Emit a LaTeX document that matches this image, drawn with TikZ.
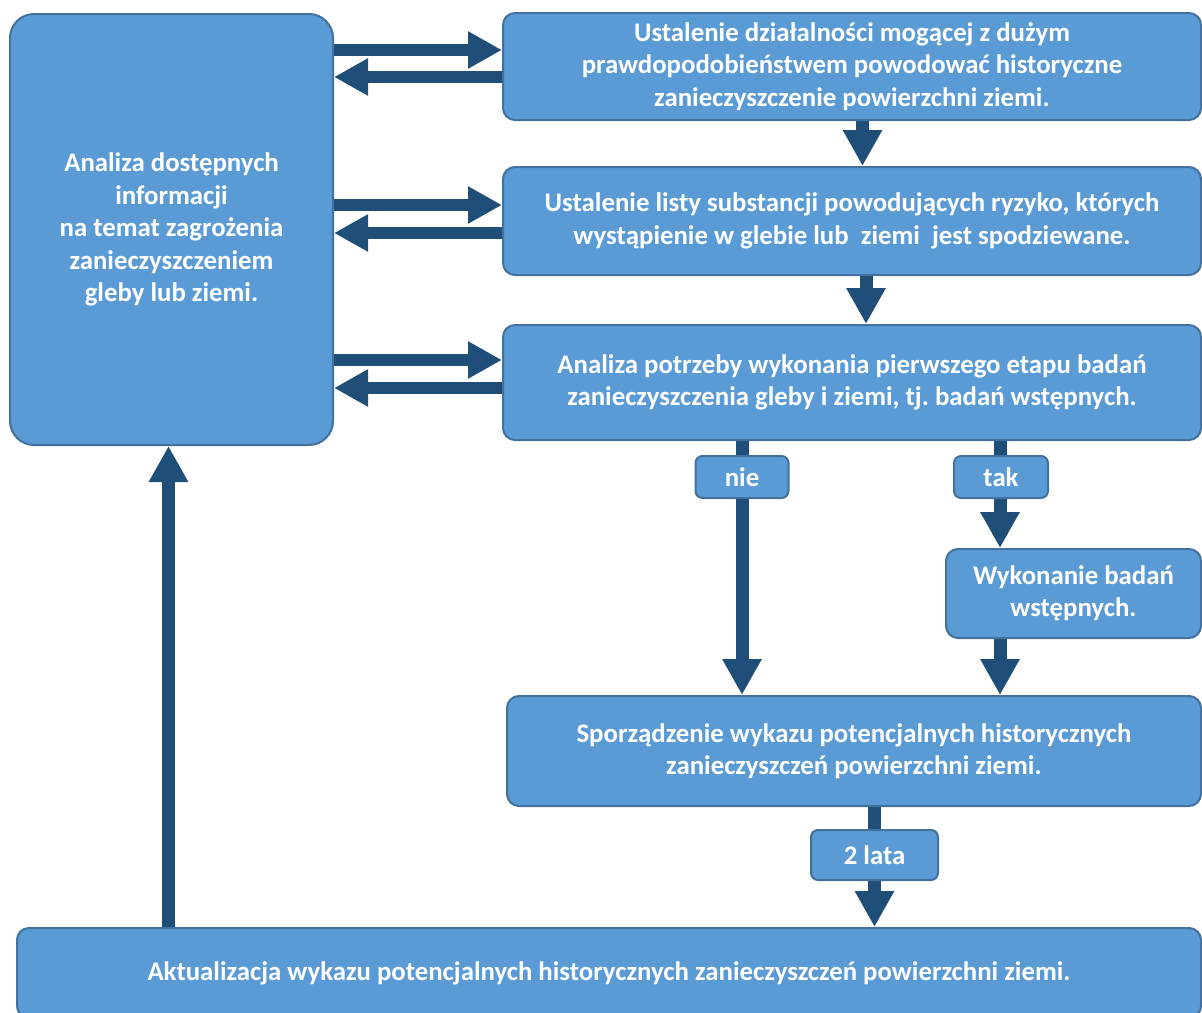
\documentclass[tikz,border=0pt]{standalone}
\usepackage{fontspec}
\setmainfont{Carlito}
\usetikzlibrary{arrows.meta,backgrounds}
\definecolor{boxfill}{HTML}{5B9BD5}
\definecolor{boxline}{HTML}{41719C}
\definecolor{arrowc}{HTML}{1F4E79}
\frenchspacing
\begin{document}
\begin{tikzpicture}[x=1pt,y=-1pt,
 box/.style={draw=boxline, line width=2pt, fill=boxfill, rounded corners=12pt, text=white,
   font=\fontsize{26.8}{32.5}\selectfont\bfseries, align=center, inner sep=0pt},
 bigbox/.style={box, rounded corners=24pt},
 tagbox/.style={box, rounded corners=7pt},
 harrow/.style={draw=arrowc, line width=12pt, -{Triangle[width=35pt,length=34pt]}},
 varrow/.style={draw=arrowc, line width=13pt, -{Triangle[width=37pt,length=36pt]}},
 ]
\useasboundingbox (0,0) rectangle (1202,1012);

\node[bigbox, minimum width=323pt, minimum height=431pt] (L) at (171.5,229.5)
  {Analiza dostępnych\\informacji\\na temat zagrożenia\\zanieczyszczeniem\\gleby lub ziemi.};
\node[box, minimum width=698pt, minimum height=107pt] (A) at (852,66.5)
  {Ustalenie działalności mogącej z dużym\\prawdopodobieństwem powodować historyczne\\zanieczyszczenie powierzchni ziemi.};
\node[box, minimum width=698pt, minimum height=108pt] (B) at (852,221)
  {Ustalenie listy substancji powodujących ryzyko, których\\wystąpienie w glebie lub\ \ ziemi\ \ jest spodziewane.};
\node[box, minimum width=698pt, minimum height=115pt] (C) at (852,382.5)
  {Analiza potrzeby wykonania pierwszego etapu badań\\zanieczyszczenia gleby i ziemi, tj. badań wstępnych.};
\node[box, minimum width=255pt, minimum height=89pt] (W) at (1073.5,593.5)
  {Wykonanie badań\\wstępnych.};
\node[box, minimum width=694pt, minimum height=110pt] (S) at (854,751)
  {Sporządzenie wykazu potencjalnych historycznych\\zanieczyszczeń powierzchni ziemi.};
\node[box, minimum width=1184pt, minimum height=90pt] (Bot) at (609,973)
  {Aktualizacja wykazu potencjalnych historycznych zanieczyszczeń powierzchni ziemi.};

\node[tagbox, minimum width=93pt, minimum height=42pt] (nie) at (742,477) {nie};
\node[tagbox, minimum width=94pt, minimum height=42pt] (tak) at (1001,477) {tak};
\node[tagbox, minimum width=127pt, minimum height=50pt] (lata) at (874.5,855) {2 lata};

\begin{scope}[on background layer]
  % left box <-> right boxes
  \draw[harrow] (L.east |- 0,50) -- (A.west |- 0,50);
  \draw[harrow] (A.west |- 0,77) -- (L.east |- 0,77);
  \draw[harrow] (L.east |- 0,205) -- (B.west |- 0,205);
  \draw[harrow] (B.west |- 0,233) -- (L.east |- 0,233);
  \draw[harrow] (L.east |- 0,360) -- (C.west |- 0,360);
  \draw[harrow] (C.west |- 0,388) -- (L.east |- 0,388);
  % vertical flow
  \draw[varrow] (A.south -| 862.5,0) -- (B.north -| 862.5,0);
  \draw[varrow] (B.south -| 866,0) -- (C.north -| 866,0);
  \draw[varrow] (C.south -| nie.center) -- (S.north -| nie.center);
  \draw[varrow] (C.south -| 1000,0) -- (W.north -| 1000,0);
  \draw[varrow] (W.south -| 1000,0) -- (S.north -| 1000,0);
  \draw[varrow] (S.south -| lata.center) -- (Bot.north -| lata.center);
  \draw[varrow] (Bot.north -| 168.5,0) -- (L.south -| 168.5,0);
\end{scope}
\end{tikzpicture}
\end{document}
